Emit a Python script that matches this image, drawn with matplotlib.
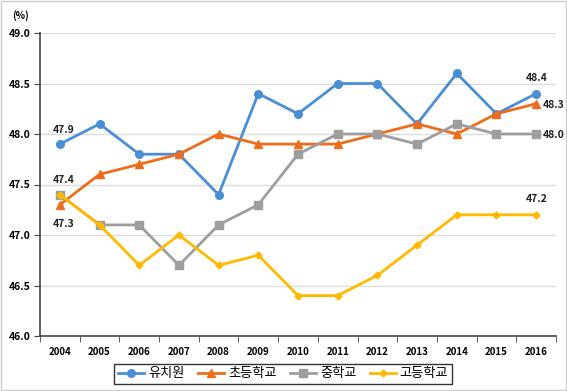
import matplotlib
matplotlib.use("Agg")
import matplotlib.pyplot as plt
import numpy as np

plt.rcParams["font.family"] = ["Noto Sans CJK KR", "DejaVu Sans"]

# --- Data ---
years = ["2004", "2005", "2006", "2007", "2008", "2009", "2010",
         "2011", "2012", "2013", "2014", "2015", "2016"]
kinder = [47.9, 48.1, 47.8, 47.8, 47.4, 48.4, 48.2, 48.5, 48.5, 48.1, 48.6, 48.2, 48.4]
elem   = [47.3, 47.6, 47.7, 47.8, 48.0, 47.9, 47.9, 47.9, 48.0, 48.1, 48.0, 48.2, 48.3]
middle = [47.4, 47.1, 47.1, 46.7, 47.1, 47.3, 47.8, 48.0, 48.0, 47.9, 48.1, 48.0, 48.0]
high   = [47.4, 47.1, 46.7, 47.0, 46.7, 46.8, 46.4, 46.4, 46.6, 46.9, 47.2, 47.2, 47.2]
y_ticks = [46.0, 46.5, 47.0, 47.5, 48.0, 48.5, 49.0]

series = [
    ("유치원",   kinder, "#4a8fd6", "o", 5.5),
    ("초등학교", elem,   "#ed6d1c", "^", 5.5),
    ("중학교",   middle, "#9e9e9e", "s", 5.5),
    ("고등학교", high,   "#ffb900", "D", 3.5),
]

fig = plt.figure(figsize=(5.67, 3.91), dpi=100)
ax = fig.add_axes([40 / 567, 1 - 336 / 391, 516 / 567, 303 / 391])

xi = np.arange(len(years))
handles = []
for label, vals, color, marker, ms in series:
    h, = ax.plot(xi, vals, color=color, marker=marker, markersize=ms,
                 linewidth=2, label=label, clip_on=False)
    handles.append(h)

ax.set_xlim(-0.5, len(years) - 0.5)
ax.set_ylim(46.0, 49.0)
ax.set_yticks(y_ticks)
ax.set_yticklabels([f"{v:.1f}" for v in y_ticks], fontsize=7.5, fontweight="bold")
ax.set_xticks(xi)
ax.set_xticklabels(years, fontsize=7, fontweight="bold")
ax.tick_params(axis="x", length=0, pad=8)
ax.set_xticks(np.arange(-0.5, len(years), 1), minor=True)
ax.tick_params(axis="x", which="minor", length=4, direction="out", color="#444444")
ax.tick_params(axis="y", length=4, direction="out", color="#444444", pad=3)
ax.grid(axis="y", color="#dddddd", linewidth=1)
ax.set_axisbelow(True)
for s in ["top", "right"]:
    ax.spines[s].set_visible(False)
for s in ["left", "bottom"]:
    ax.spines[s].set_color("#444444")
    ax.spines[s].set_linewidth(1.2)

# data labels
lab = dict(fontsize=7.5, fontweight="bold", color="#222222")
ax.annotate(f"{kinder[0]:.1f}", (0, kinder[0]), xytext=(3, 8), textcoords="offset points", ha="center", **lab)
ax.annotate(f"{middle[0]:.1f}", (0, middle[0]), xytext=(3, 8), textcoords="offset points", ha="center", **lab)
ax.annotate(f"{elem[0]:.1f}", (0, elem[0]), xytext=(3, -16), textcoords="offset points", ha="center", **lab)
ax.annotate(f"{kinder[-1]:.1f}", (12, kinder[-1]), xytext=(0, 9), textcoords="offset points", ha="center", **lab)
ax.annotate(f"{elem[-1]:.1f}", (12, elem[-1]), xytext=(5, -3), textcoords="offset points", ha="left", **lab)
ax.annotate(f"{middle[-1]:.1f}", (12, middle[-1]), xytext=(5, -3), textcoords="offset points", ha="left", **lab)
ax.annotate(f"{high[-1]:.1f}", (12, high[-1]), xytext=(0, 9), textcoords="offset points", ha="center", **lab)

fig.text(12 / 567, 1 - 16 / 391, "(%)", fontsize=7, fontweight="bold", va="center")

leg = fig.legend(handles=handles, loc="center", bbox_to_anchor=(283 / 567, 1 - 374 / 391),
                 ncol=4, fontsize=9.5, frameon=True, fancybox=False, edgecolor="black",
                 handlelength=2.0, handletextpad=0.3, columnspacing=1.0, borderpad=0.25)
leg.get_frame().set_linewidth(1)

# light outer border
fig.patches.append(plt.Rectangle((0.002, 0.002), 0.996, 0.996, transform=fig.transFigure,
                                 fill=False, edgecolor="#cccccc", linewidth=1))

fig.savefig("out.png", dpi=100)
